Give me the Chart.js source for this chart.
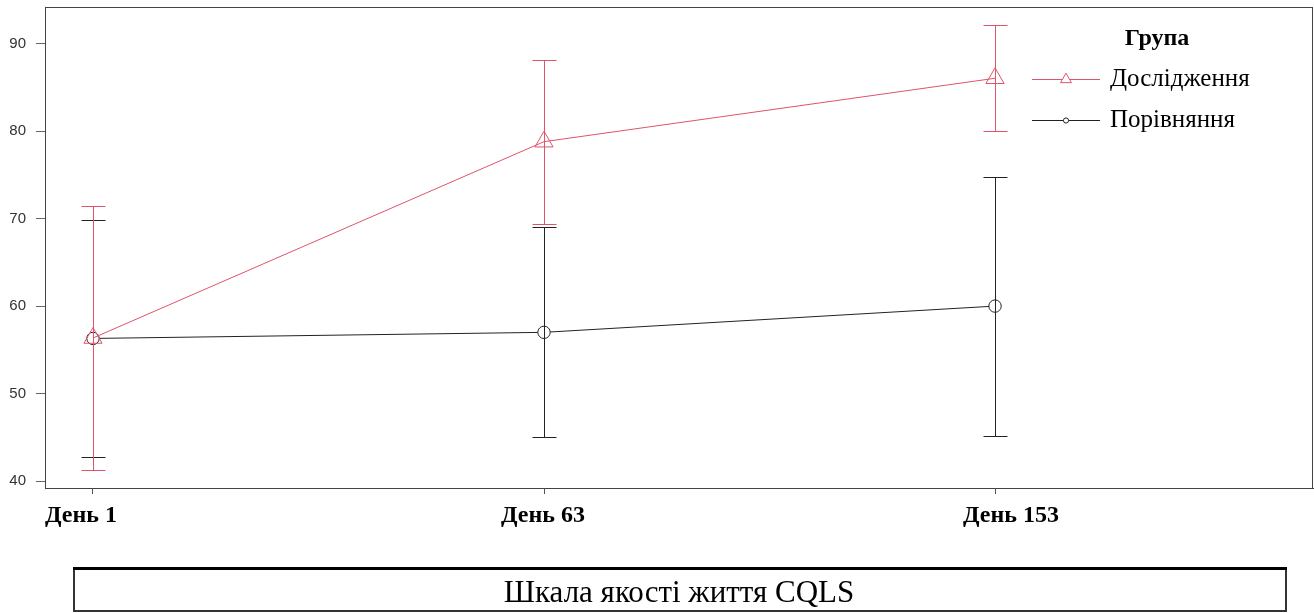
<!DOCTYPE html>
<html>
<head>
<meta charset="utf-8">
<script src="https://cdn.jsdelivr.net/npm/chart.js@4/dist/chart.umd.min.js"></script>
<style>
  html, body { margin: 0; padding: 0; background: #fff; }
  #wrap { width: 1314px; height: 613px; }
</style>
</head>
<body>
<div id="wrap"><canvas id="c" width="1314" height="613"></canvas></div>
<script>
// Visit labels (equally spaced along the x axis)
const categories = ['День 1', 'День 63', 'День 153'];

// Study group: mean and interval bounds
const studyMean = [56.35, 78.8, 86.05];
const studyLow  = [41.3, 69.4, 80.0];
const studyHigh = [71.4, 88.1, 92.1];

// Comparison group: mean and interval bounds
const compMean = [56.3, 57.0, 60.0];
const compLow  = [42.7, 45.0, 45.2];
const compHigh = [69.8, 69.0, 74.75];

const yTicks = [40, 50, 60, 70, 80, 90];

const seriesNames = ['Дослідження', 'Порівняння'];
const legendTitle = 'Група';
const bottomTitle = 'Шкала якості життя CQLS';

const PINK = '#DF536B';
const DARK = '#222222';

const toPoints = (arr) => arr.map((v, i) => ({ x: i, y: v }));

// Error bars drawn through the chart's own scales
const errorBars = {
  id: 'errorBars',
  afterDatasetsDraw(chart) {
    const { ctx, scales: { x, y } } = chart;
    [1, 0].forEach((di) => {
      const ds = chart.data.datasets[di];
      ctx.save();
      ctx.strokeStyle = ds.borderColor;
      ctx.lineWidth = 1;
      ds.errLow.forEach((lo, i) => {
        const px = Math.round(x.getPixelForValue(i)) + 0.5;
        const pLo = Math.round(y.getPixelForValue(lo)) + 0.5;
        const pHi = Math.round(y.getPixelForValue(ds.errHigh[i])) + 0.5;
        ctx.beginPath();
        ctx.moveTo(px, pHi); ctx.lineTo(px, pLo);
        ctx.moveTo(px - 12, pHi); ctx.lineTo(px + 12, pHi);
        ctx.moveTo(px - 12, pLo); ctx.lineTo(px + 12, pLo);
        ctx.stroke();
      });
      ctx.restore();
    });
  }
};

// Category labels under the x ticks (slightly staggered as in the layout)
const labelShift = [-12, -1, 16];
const xLabels = {
  id: 'xLabels',
  afterDraw(chart) {
    const { ctx, scales: { x }, chartArea: a } = chart;
    ctx.save();
    ctx.fillStyle = '#000';
    ctx.font = 'bold 24px "Liberation Serif"';
    ctx.textAlign = 'center';
    ctx.textBaseline = 'alphabetic';
    categories.forEach((c, i) => {
      ctx.fillText(c, x.getPixelForValue(i) + labelShift[i], a.bottom + 34);
    });
    ctx.restore();
  }
};

// Frame around the plot, legend in the upper right, boxed caption below
const decorations = {
  id: 'decorations',
  afterDraw(chart) {
    const { ctx, chartArea: a } = chart;
    ctx.save();
    ctx.strokeStyle = '#444';
    ctx.lineWidth = 1;
    ctx.strokeRect(Math.round(a.left) + 0.5, Math.round(a.top) + 0.5,
                   Math.round(a.right - a.left) - 1, Math.round(a.bottom - a.top));

    // legend
    ctx.fillStyle = '#000';
    ctx.font = 'bold 24px "Liberation Serif"';
    ctx.textAlign = 'center';
    ctx.textBaseline = 'middle';
    ctx.fillText(legendTitle, 1157, 39);

    const rows = [79, 120];
    chart.data.datasets.forEach((ds, i) => {
      const yy = rows[i] + 0.5;
      ctx.strokeStyle = ds.borderColor;
      ctx.lineWidth = 1;
      ctx.beginPath();
      ctx.moveTo(1032, yy); ctx.lineTo(1100, yy);
      ctx.stroke();
      ctx.fillStyle = '#fff';
      ctx.beginPath();
      if (ds.pointStyle === 'triangle') {
        const r = 6.3;
        ctx.moveTo(1066, yy - r);
        ctx.lineTo(1066 + r * 0.866, yy + r * 0.5);
        ctx.lineTo(1066 - r * 0.866, yy + r * 0.5);
        ctx.closePath();
      } else {
        ctx.arc(1066, yy, 2.6, 0, Math.PI * 2);
      }
      ctx.fill();
      ctx.stroke();
      ctx.fillStyle = '#000';
      ctx.font = '25px "Liberation Serif"';
      ctx.textAlign = 'left';
      ctx.fillText(ds.label, 1110, rows[i]);
    });

    // caption box
    ctx.strokeStyle = '#333';
    ctx.lineWidth = 2;
    ctx.strokeRect(74, 569, 1212, 42);
    ctx.strokeStyle = '#000';
    ctx.lineWidth = 3;
    ctx.beginPath();
    ctx.moveTo(73, 568.5); ctx.lineTo(1287, 568.5);
    ctx.stroke();
    ctx.fillStyle = '#000';
    ctx.font = '31px "Liberation Serif"';
    ctx.textAlign = 'center';
    ctx.textBaseline = 'alphabetic';
    ctx.fillText(bottomTitle, 679, 602);
    ctx.restore();
  }
};

const noScalePadding = (s) => {
  s.paddingTop = 0; s.paddingBottom = 0; s.paddingLeft = 0; s.paddingRight = 0;
};

new Chart(document.getElementById('c'), {
  type: 'line',
  data: {
    datasets: [
      {
        label: seriesNames[0],
        data: toPoints(studyMean),
        errLow: studyLow,
        errHigh: studyHigh,
        borderColor: PINK,
        borderWidth: 1,
        pointStyle: 'triangle',
        pointRadius: 10.5,
        pointBorderWidth: 1,
        pointBackgroundColor: 'rgba(255,255,255,0)',
        pointBorderColor: PINK,
        tension: 0
      },
      {
        label: seriesNames[1],
        data: toPoints(compMean),
        errLow: compLow,
        errHigh: compHigh,
        borderColor: DARK,
        borderWidth: 1,
        pointStyle: 'circle',
        pointRadius: 6.2,
        pointBorderWidth: 1,
        pointBackgroundColor: '#fff',
        pointBorderColor: DARK,
        tension: 0
      }
    ]
  },
  options: {
    responsive: false,
    animation: false,
    events: [],
    layout: { autoPadding: false, padding: { left: 0, top: 7, right: 1, bottom: 80 } },
    plugins: { legend: { display: false }, tooltip: { enabled: false }, title: { display: false } },
    scales: {
      x: {
        type: 'linear',
        min: -0.1064,
        max: 2.705,
        afterBuildTicks: (s) => { s.ticks = categories.map((_, i) => ({ value: i })); },
        afterFit: (s) => { s.height = 45; noScalePadding(s); },
        border: { display: true, color: '#444', width: 1 },
        grid: { display: true, drawOnChartArea: false, drawTicks: true, tickLength: 6, color: '#555' },
        ticks: { display: false }
      },
      y: {
        min: 39.2,
        max: 94.2,
        afterBuildTicks: (s) => { s.ticks = yTicks.map((v) => ({ value: v })); },
        afterFit: (s) => { s.width = 45; noScalePadding(s); },
        border: { display: true, color: '#444', width: 1 },
        grid: { display: true, drawOnChartArea: false, drawTicks: true, tickLength: 9, color: '#666' },
        ticks: {
          padding: 10,
          color: '#333',
          font: { family: 'Liberation Sans', size: 15 }
        }
      }
    }
  },
  plugins: [errorBars, xLabels, decorations]
});
</script>
</body>
</html>
